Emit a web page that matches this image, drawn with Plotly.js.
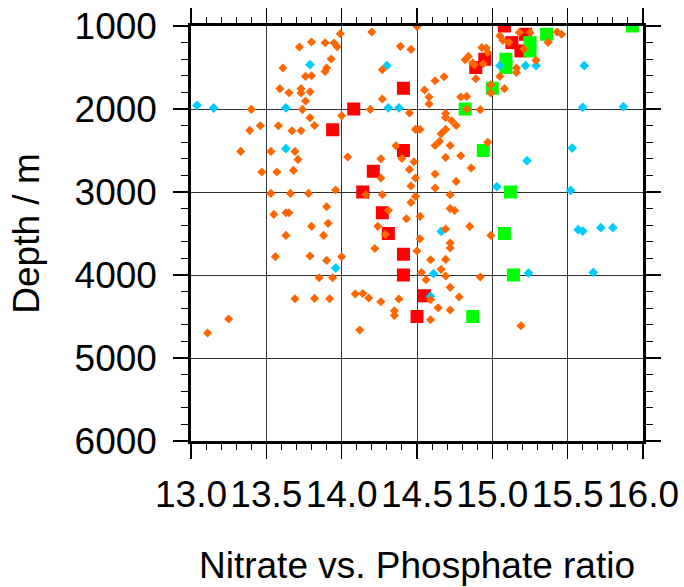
<!DOCTYPE html>
<html>
<head>
<meta charset="utf-8">
<script src="https://cdn.plot.ly/plotly-3.0.1.min.js"></script>
<style>html,body{margin:0;padding:0;background:#fff;}#chart{width:684px;height:587px;}</style>
</head>
<body>
<div id="chart"></div>
<script>
// Orange diamonds (ratio, depth)
const orangeX = [13.99,14.20,14.50,13.72,13.80,13.89,13.95,13.97,13.93,13.90,13.89,13.61,13.76,13.80,13.59,13.65,13.73,13.73,13.79,13.76,
  13.40,13.74,13.79,13.82,14.00,14.19,14.27,14.27,14.39,14.46,14.45,14.49,13.46,13.39,13.58,13.67,13.73,13.33,13.53,13.69,
  13.71,13.47,13.57,13.68,14.04,14.26,14.36,14.40,14.48,14.45,14.49,14.46,14.49,14.46,14.26,14.27,14.16,13.96,13.90,13.53,
  13.66,13.78,13.55,13.63,13.65,14.31,13.80,13.91,13.88,13.63,13.56,13.79,13.90,14.00,14.24,14.29,14.22,14.43,14.50,13.85,
  13.94,13.69,13.82,13.92,14.09,14.14,14.18,14.26,14.38,14.35,14.35,13.25,13.11,14.12,14.52,14.72,14.75,14.85,14.99,14.69,
  14.52,14.72,14.72,14.59,14.69,14.66,14.53,14.56,14.69,14.92,14.72,14.78,14.59,14.64,14.72,14.59,15.19,15.05,15.07,15.11,
  15.18,15.25,15.21,15.43,15.46,15.37,15.29,14.93,14.96,14.97,14.84,14.82,14.87,14.88,14.94,15.16,15.16,15.05,14.89,15.08,
  14.99,14.99,14.68,14.62,14.55,14.58,14.58,14.79,14.83,14.83,14.92,14.69,14.69,14.73,14.76,14.52,14.69,14.66,14.65,14.62,
  14.72,14.97,14.69,14.79,14.86,14.62,14.62,14.76,14.72];
const orangeDepth = [1093,1072,1005,1253,1193,1201,1205,1249,1398,1506,1547,1506,1607,1599,1755,1804,1755,1807,1792,1904,
  2005,2005,2105,2198,2081,2005,1880,1527,1245,1282,2048,2246,2201,2258,2201,2262,2262,2511,2511,2511,
  2607,2759,2759,2740,2578,2599,2442,2595,2635,2728,2831,2928,3053,3125,2831,3033,3033,2976,3177,3017,
  3017,3017,3270,3250,3250,3222,3414,3378,3523,3523,3780,3771,3824,3780,3414,3511,3680,3322,3711,4033,
  4033,4286,4282,4286,4229,4222,4277,4322,4289,4430,4487,4530,4699,4663,3294,3200,3222,3414,3523,3446,
  3563,3614,3675,3816,3812,3932,3969,4057,4012,4024,4149,4265,4298,4394,4422,4539,4611,1117,1173,1197,
  1077,1077,1277,1072,1100,1197,1414,1260,1265,1320,1366,1406,1446,1466,1454,1506,1559,1607,1635,1755,
  1707,1807,1611,1659,1771,1855,1940,1855,1848,2000,2008,2053,2101,2141,2198,2246,2246,2298,2390,2439,
  2439,2402,2583,2563,2711,2783,2952,2872,3033];

// Cyan diamonds
const cyanX = [13.79,14.30,13.04,13.15,13.63,14.31,14.38,13.63,13.96,14.66,14.61,14.59,15.24,15.57,15.60,15.72,15.80,15.67,
  15.05,15.22,15.29,15.61,15.60,15.87,15.53,15.23,15.03,15.52];
const cyanDepth = [1466,1478,1957,1988,1985,1985,1985,2478,3916,3475,3984,4257,3976,3454,3470,3430,3430,3969,
  1478,1478,1478,1478,1980,1972,2470,2623,2936,2981];

// Red squares
const redX = [15.08,15.22,15.13,15.19,14.95,14.89,14.41,14.08,13.94,14.41,14.21,14.14,14.27,14.31,14.41,14.41,14.55,14.50];
const redDepth = [1000,1100,1200,1300,1400,1500,1750,2000,2250,2500,2750,3000,3250,3500,3750,4000,4250,4500];

// Green squares
const greenX = [15.93,15.36,15.25,15.25,15.09,15.09,15.00,14.82,14.94,15.12,15.08,15.14,14.87];
const greenDepth = [1000,1100,1200,1300,1400,1500,1750,2000,2500,3000,3500,4000,4500];

const xTickVals = [13.0,13.5,14.0,14.5,15.0,15.5,16.0];
const yTickVals = [1000,2000,3000,4000,5000,6000];

const FONT = 'Liberation Sans, Arial, sans-serif';

const traces = [
  {x: redX, y: redDepth, type: 'scatter', mode: 'markers', name: 'red',
   marker: {symbol: 'square', size: 13, color: '#ff0000'}},
  {x: greenX, y: greenDepth, type: 'scatter', mode: 'markers', name: 'green',
   marker: {symbol: 'square', size: 13, color: '#00ff00'}},
  {x: cyanX, y: cyanDepth, type: 'scatter', mode: 'markers', name: 'cyan',
   marker: {symbol: 'diamond', size: 7.5, color: '#00ccff'}},
  {x: orangeX, y: orangeDepth, type: 'scatter', mode: 'markers', name: 'orange',
   marker: {symbol: 'diamond', size: 7, color: '#ff6600'}}
];

const axisCommon = {
  showline: true, linecolor: '#000', linewidth: 2.7, mirror: 'ticks',
  ticks: 'outside', ticklen: 15, tickwidth: 1.2, tickcolor: '#000',
  showgrid: true, gridcolor: '#333', gridwidth: 1,
  zeroline: false,
  tickfont: {family: FONT, size: 37, color: '#000'}
};

const layout = {
  width: 684, height: 587,
  margin: {l: 191, r: 41, t: 26, b: 146, pad: 0},
  paper_bgcolor: '#fff', plot_bgcolor: '#fff',
  showlegend: false,
  xaxis: Object.assign({}, axisCommon, {
    range: [13, 16], autorange: false,
    tickmode: 'array', tickvals: xTickVals, ticktext: xTickVals.map(v => v.toFixed(1)),
    ticklabelstandoff: 4,
    minor: {dtick: 0.1, tick0: 13, ticks: 'outside', ticklen: 6, tickcolor: '#000', tickwidth: 1, showgrid: false},
    title: {text: 'Nitrate vs. Phosphate ratio', font: {family: FONT, size: 37, color: '#000'}, standoff: 38},
    automargin: false
  }),
  yaxis: Object.assign({}, axisCommon, {
    range: [6000, 1000], autorange: false,
    tickmode: 'array', tickvals: yTickVals, ticktext: yTickVals.map(String),
    ticklabelstandoff: 9,
    minor: {dtick: 200, tick0: 1000, ticks: 'outside', ticklen: 7, tickcolor: '#000', tickwidth: 1, showgrid: false},
    title: {text: 'Depth / m', font: {family: FONT, size: 37, color: '#000'}, standoff: 24},
    automargin: false
  })
};

Plotly.newPlot('chart', traces, layout, {staticPlot: true, displayModeBar: false});
</script>
</body>
</html>
